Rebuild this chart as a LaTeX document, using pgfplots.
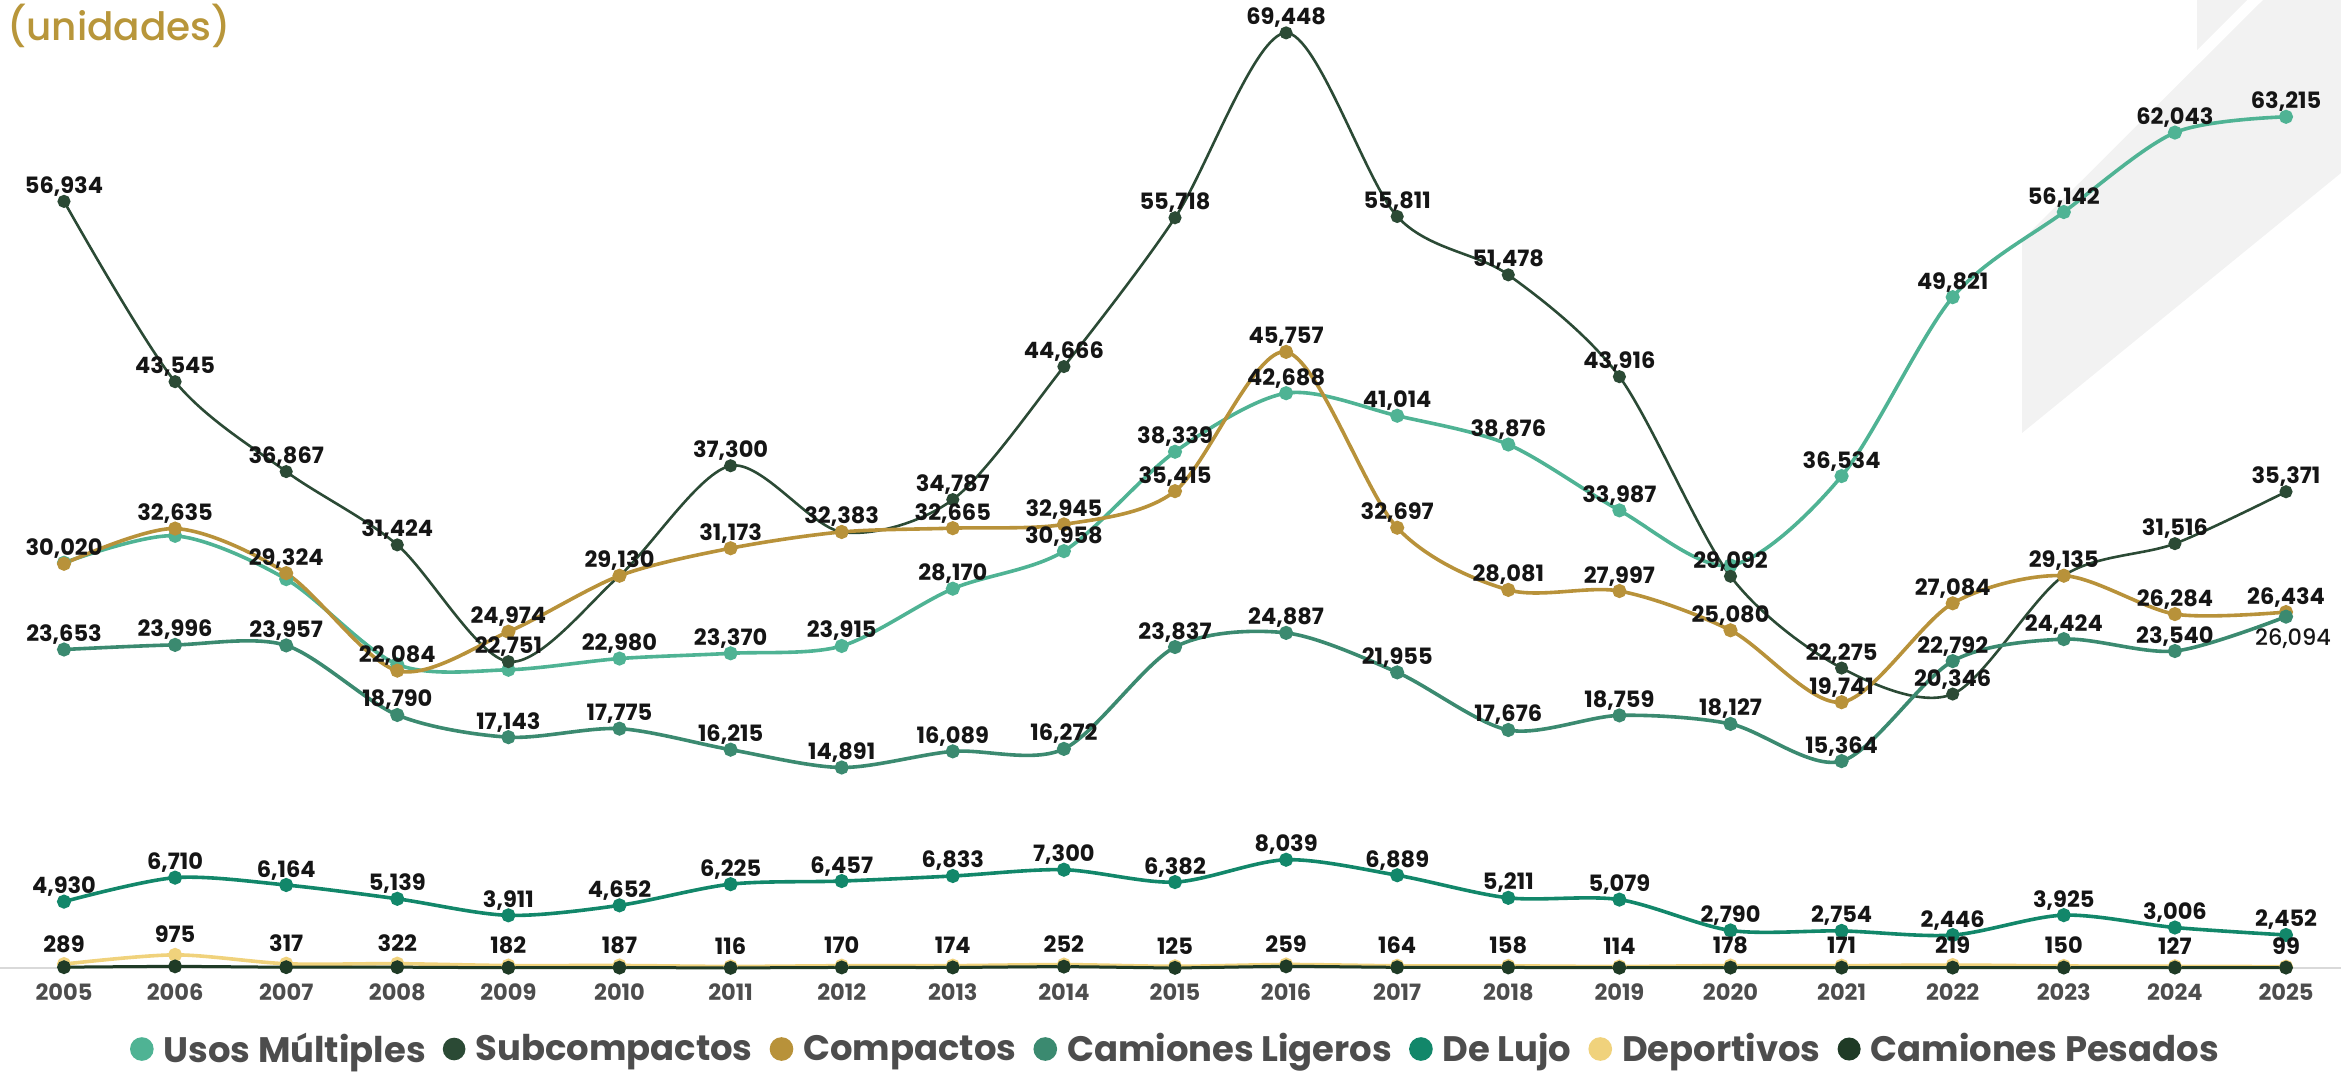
\documentclass[border=0pt]{standalone}
\usepackage{fontspec}
\setmainfont{Poppins}
\newfontfamily\popmed{Poppins Medium}
\usepackage{pgfplots}
\pgfplotsset{compat=1.18}
\usepackage{pgfplotstable}

\definecolor{cUsos}{HTML}{4FB394}
\definecolor{cSub}{HTML}{2B4A35}
\definecolor{cComp}{HTML}{B8923A}
\definecolor{cCam}{HTML}{3B8A70}
\definecolor{cLujo}{HTML}{12876A}
\definecolor{cDep}{HTML}{F0D27C}
\definecolor{cPes}{HTML}{1F3B26}
\definecolor{cGold}{HTML}{B8963A}
\definecolor{cTxt}{HTML}{4D4D4D}
\definecolor{cLab}{HTML}{151515}

\pgfplotstableread{
x y l
2005 30100 {}
2006 32095 {}
2007 28880 {}
2008 22550 {}
2009 22150 {}
2010 22980 22,980
2011 23370 23,370
2012 23915 23,915
2013 28170 28,170
2014 30958 30,958
2015 38339 38,339
2016 42688 42,688
2017 41014 41,014
2018 38876 38,876
2019 33987 33,987
2020 29900 {}
2021 36534 36,534
2022 49821 49,821
2023 56142 56,142
2024 62043 62,043
2025 63215 63,215
}\usos

\pgfplotstableread{
x y l
2005 56934 56,934
2006 43545 43,545
2007 36867 36,867
2008 31424 31,424
2009 22751 22,751
2010 29130 {}
2011 37300 37,300
2012 32383 {}
2013 34787 34,787
2014 44666 44,666
2015 55718 55,718
2016 69448 69,448
2017 55811 55,811
2018 51478 51,478
2019 43916 43,916
2020 29092 29,092
2021 22275 22,275
2022 20346 20,346
2023 29135 {}
2024 31516 31,516
2025 35371 35,371
}\subc

\pgfplotstableread{
x y l
2005 30020 30,020
2006 32635 32,635
2007 29324 29,324
2008 22084 22,084
2009 24974 24,974
2010 29130 29,130
2011 31173 31,173
2012 32383 32,383
2013 32665 32,665
2014 32945 32,945
2015 35415 35,415
2016 45757 45,757
2017 32697 32,697
2018 28081 28,081
2019 27997 27,997
2020 25080 25,080
2021 19741 19,741
2022 27084 27,084
2023 29135 29,135
2024 26284 26,284
2025 26434 26,434
}\comp

\pgfplotstableread{
x y l
2005 23653 23,653
2006 23996 23,996
2007 23957 23,957
2008 18790 18,790
2009 17143 17,143
2010 17775 17,775
2011 16215 16,215
2012 14891 14,891
2013 16089 16,089
2014 16272 16,272
2015 23837 23,837
2016 24887 24,887
2017 21955 21,955
2018 17676 17,676
2019 18759 18,759
2020 18127 18,127
2021 15364 15,364
2022 22792 22,792
2023 24424 24,424
2024 23540 23,540
2025 26094 {}
}\caml

\pgfplotstableread{
x y l
2025 26094 26,094
}\camlb

\pgfplotstableread{
x y l
2005 4930 4,930
2006 6710 6,710
2007 6164 6,164
2008 5139 5,139
2009 3911 3,911
2010 4652 4,652
2011 6225 6,225
2012 6457 6,457
2013 6833 6,833
2014 7300 7,300
2015 6382 6,382
2016 8039 8,039
2017 6889 6,889
2018 5211 5,211
2019 5079 5,079
2020 2790 2,790
2021 2754 2,754
2022 2446 2,446
2023 3925 3,925
2024 3006 3,006
2025 2452 2,452
}\lujo

\pgfplotstableread{
x y l
2005 289 289
2006 975 975
2007 317 317
2008 322 322
2009 182 182
2010 187 187
2011 116 116
2012 170 170
2013 174 174
2014 252 252
2015 125 125
2016 259 259
2017 164 164
2018 158 158
2019 114 114
2020 178 178
2021 171 171
2022 219 219
2023 150 150
2024 127 127
2025 99 99
}\dep

\pgfplotstableread{
x y
2005 60
2006 120
2007 60
2008 60
2009 20
2010 30
2011 10
2012 40
2013 40
2014 100
2015 10
2016 120
2017 50
2018 40
2019 20
2020 30
2021 30
2022 30
2023 30
2024 30
2025 30
}\pes

\pgfplotsset{
  legdot/.style={legend image code/.code={\fill[#1] (5pt,0pt) circle (5pt);}},
  ser/.style={color=#1, line width=1.8pt, smooth, mark=*, mark size=2.6pt,
    mark options={draw=none, fill=#1}, legdot=#1},
  labs/.style={forget plot, draw=none, mark=none, nodes near coords,
    point meta=explicit symbolic,
    every node near coord/.append style={anchor=base, yshift=4pt, inner sep=0pt,
      text=cLab, font=\bfseries\fontsize{11.25}{13}\selectfont}},
}

\begin{document}
\begin{tikzpicture}
\useasboundingbox (0,0) rectangle (1170.5pt,536pt);
\fill[black!5] (1011pt,416pt) -- (1131.5pt,536pt) -- (1170.5pt,536pt) -- (1170.5pt,449.5pt) -- (1011pt,319.5pt) -- cycle;
\fill[black!5] (1098.5pt,536pt) -- (1098.5pt,511pt) -- (1123.5pt,536pt) -- cycle;
\node[anchor=base west, inner sep=0pt, text=cGold, font=\popmed\fontsize{19.5}{23}\selectfont] at (3.5pt,515.5pt) {(unidades)};
\begin{axis}[
  at={(0pt,52pt)}, anchor=south west, scale only axis,
  width=1170.5pt, height=484pt,
  xmin=2004.424, xmax=2025.495, ymin=0, ymax=71890,
  clip=false,
  axis x line=bottom, axis y line=none,
  x axis line style={draw=black!15, line width=1pt, -},
  xtick={2005,2006,2007,2008,2009,2010,2011,2012,2013,2014,2015,2016,2017,2018,2019,2020,2021,2022,2023,2024,2025},
  xticklabels={2005,2006,2007,2008,2009,2010,2011,2012,2013,2014,2015,2016,2017,2018,2019,2020,2021,2022,2023,2024,2025},
  major tick length=0pt,
  xticklabel style={anchor=north, inner sep=0pt, yshift=-7.5pt, text=cTxt, font=\bfseries\fontsize{11.25}{13}\selectfont},
  legend columns=7,
  legend style={at={(axis description cs:0.5026,-0.0837)}, anchor=center, draw=none, fill=none,
    font=\bfseries\fontsize{17.7}{21}\selectfont, text=cTxt, column sep=3pt,
    /tikz/every even column/.append style={column sep=6.5pt}},
]
\addplot[ser=cUsos] table[x=x,y=y] {\usos};
\addlegendentry{Usos Múltiples}
\addplot[ser=cSub, line width=1.3pt] table[x=x,y=y] {\subc};
\addlegendentry{Subcompactos}
\addplot[ser=cComp] table[x=x,y=y] {\comp};
\addlegendentry{Compactos}
\addplot[ser=cCam] table[x=x,y=y] {\caml};
\addlegendentry{Camiones Ligeros}
\addplot[ser=cLujo] table[x=x,y=y] {\lujo};
\addlegendentry{De Lujo}
\addplot[ser=cDep] table[x=x,y=y] {\dep};
\addlegendentry{Deportivos}
\addplot[ser=cPes, line width=1.5pt, mark size=2.7pt] table[x=x,y=y] {\pes};
\addlegendentry{Camiones Pesados}
% value labels
\addplot[labs] table[x=x,y=y,meta=l] {\usos};
\addplot[labs] table[x=x,y=y,meta=l] {\comp};
\addplot[labs] table[x=x,y=y,meta=l] {\caml};
\addplot[labs] table[x=x,y=y,meta=l] {\lujo};
\addplot[labs, every node near coord/.append style={yshift=2pt}] table[x=x,y=y,meta=l] {\dep};
\addplot[labs] table[x=x,y=y,meta=l] {\subc};
\addplot[labs, every node near coord/.append style={anchor=north, yshift=-10pt, xshift=3.5pt, font=\popmed\fontsize{11.25}{13}\selectfont}] table[x=x,y=y,meta=l] {\camlb};
\end{axis}
\end{tikzpicture}
\end{document}
